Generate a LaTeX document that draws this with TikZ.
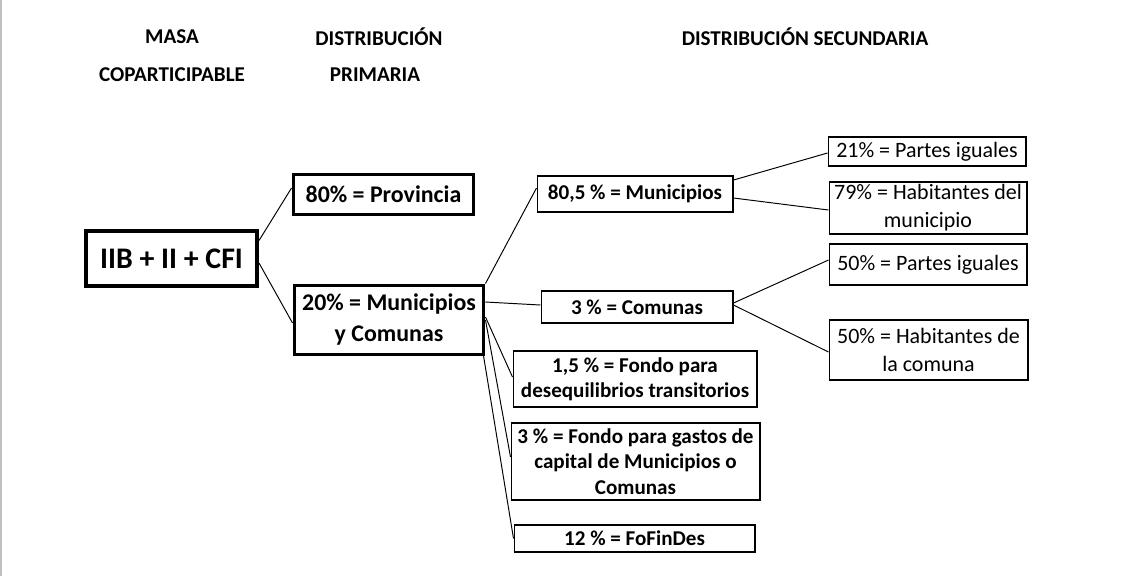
\documentclass[tikz,border=0pt]{standalone}
\usepackage{fontspec}
\setmainfont{Carlito}
\usetikzlibrary{positioning}

\begin{document}
\begin{tikzpicture}[x=0.02cm, y=-0.02cm,
    head/.style={font=\bfseries\fontsize{12}{14}\selectfont},
    bigbox/.style={draw, line width=2.3pt, inner sep=1pt, align=center, font=\bfseries\fontsize{17}{20}\selectfont},
    primbox/.style={draw, line width=1.7pt, inner sep=1pt, align=center, font=\bfseries\fontsize{13.6}{18}\selectfont},
    secbox/.style={draw, line width=0.6pt, inner sep=1pt, align=center, font=\bfseries\fontsize{12}{14.5}\selectfont},
    subbox/.style={draw, line width=0.6pt, inner sep=1pt, align=center, font=\fontsize{12.5}{16}\selectfont},
    link/.style={line width=0.55pt}]
    \useasboundingbox[fill=white] (0,0) rectangle (1124,576);
    \draw[black!25, line width=1.2pt] (1,0) -- (1,576);

    % titulos de columnas
    \node[head] (masa) at (172,37) {MASA};
    \node[head] (copart) at (172,75) {COPARTICIPABLE};
    \node[head] (distprim) at (379,37) {DISTRIBUCIÓN};
    \node[head] (prim) at (375,75) {PRIMARIA};
    \node[head] (distsec) at (805,37) {DISTRIBUCIÓN SECUNDARIA};

    % masa y distribucion primaria
    \node[bigbox, minimum width=3.42cm, minimum height=1.1cm] (masacop) at (171.5,258.5) {IIB + II + CFI};
    \node[primbox, minimum width=3.62cm, minimum height=0.8cm] (prov) at (383.5,194) {80\% = Provincia};
    \node[primbox, minimum width=3.8cm, minimum height=1.38cm] (muncom) at (389,319.5) {20\% = Municipios\\y Comunas};

    % distribucion secundaria
    \node[secbox, minimum width=3.92cm, minimum height=0.72cm] (mun) at (635,194) {80,5 \% = Municipios};
    \node[secbox, minimum width=3.84cm, minimum height=0.64cm] (com) at (637,307) {3 \% = Comunas};
    \node[secbox, minimum width=4.88cm, minimum height=1.12cm] (fdt) at (635,379) {1,5 \% = Fondo para\\desequilibrios transitorios};
    \node[secbox, minimum width=4.98cm, minimum height=1.54cm] (fgc) at (635.5,461.5) {3 \% = Fondo para gastos de\\capital de Municipios o\\Comunas};
    \node[secbox, minimum width=4.82cm, minimum height=0.54cm] (fofin) at (634.5,538.5) {12 \% = FoFinDes};

    \node[subbox, minimum width=3.96cm, minimum height=0.58cm] (mpart) at (927,151.5) {21\% = Partes iguales};
    \node[subbox, minimum width=3.96cm, minimum height=1.04cm] (mhab) at (928,208) {79\% = Habitantes del\\municipio};
    \node[subbox, minimum width=3.96cm, minimum height=0.82cm] (cpart) at (928,264.5) {50\% = Partes iguales};
    \node[subbox, minimum width=3.98cm, minimum height=1.2cm] (chab) at (928.5,350) {50\% = Habitantes de\\la comuna};

    % conectores
    \draw[link] ([yshift=0.36cm]masacop.east) -- ([yshift=0.12cm]prov.west);
    \draw[link] ([yshift=-0.09cm]masacop.east) -- ([yshift=-0.07cm]muncom.west);
    \draw[link] (muncom.north east) -- ([yshift=0.12cm]mun.west);
    \draw[link] ([yshift=0.35cm]muncom.east) -- ([yshift=0.04cm]com.west);
    \draw[link] ([yshift=0.05cm]muncom.east) -- ([yshift=0.04cm]fdt.west);
    \draw[link] ([yshift=-0.01cm]muncom.east) -- ([yshift=0.09cm]fgc.west);
    \draw[link] ([xshift=-0.04cm]muncom.south east) -- (fofin.west);
    \draw[link] ([yshift=0.28cm]mun.east) -- ([yshift=-0.03cm]mpart.west);
    \draw[link] ([yshift=-0.08cm]mun.east) -- ([yshift=-0.04cm]mhab.west);
    \draw[link] ([yshift=0.08cm]com.east) -- ([yshift=0.09cm]cpart.west);
    \draw[link] ([yshift=0.04cm]com.east) -- ([yshift=-0.04cm]chab.west);
\end{tikzpicture}
\end{document}
